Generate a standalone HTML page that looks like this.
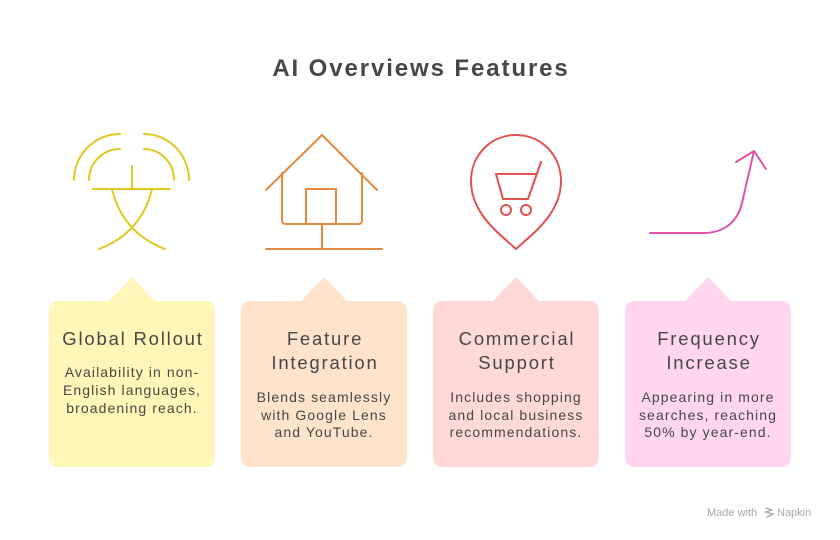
<!DOCTYPE html>
<html>
<head>
<meta charset="utf-8">
<style>
  html,body{margin:0;padding:0;background:#fff;}
  body{width:840px;height:540px;overflow:hidden;}
  svg{display:block;}
  text{font-family:"Liberation Sans",sans-serif;fill:#474747;}
  .t{font-size:18.5px;letter-spacing:1.8px;}
  .d{font-size:14px;letter-spacing:1.1px;}
</style>
</head>
<body>
<svg width="840" height="540" viewBox="0 0 840 540" xmlns="http://www.w3.org/2000/svg">
  <rect width="840" height="540" fill="#ffffff"/>
  <text x="421" y="76" text-anchor="middle" style="font-size:24px;font-weight:bold;fill:#474747;letter-spacing:1.9px;">AI Overviews Features</text>

  <!-- Icon 1: translate/antenna -->
  <g fill="none" stroke="#E2C81E" stroke-width="2" stroke-linecap="round">
    <path d="M74 180 A46 46 0 0 1 120 134"/>
    <path d="M144 134 A45 46 0 0 1 189 180"/>
    <path d="M89 180 A31 31 0 0 1 120 149"/>
    <path d="M144 149 A30 31 0 0 1 174 180"/>
    <line x1="132" y1="166" x2="132" y2="189"/>
    <line x1="93" y1="189" x2="170" y2="189"/>
    <path d="M112 189 C118 215 135 238 165 249"/>
    <path d="M152 189 C146 215 129 238 99 249"/>
  </g>

  <!-- Icon 2: house -->
  <g fill="none" stroke="#E38A3E" stroke-width="2" stroke-linecap="round" stroke-linejoin="round">
    <path d="M266 190 L322 135 L377 190"/>
    <path d="M282 173 L282 220 Q282 224 286 224 L358 224 Q362 224 362 220 L362 173"/>
    <path d="M306 224 L306 189 L336 189 L336 224"/>
    <line x1="322" y1="224" x2="322" y2="249"/>
    <line x1="266" y1="249" x2="382" y2="249"/>
  </g>

  <!-- Icon 3: pin with cart -->
  <g fill="none" stroke="#E0524E" stroke-width="2" stroke-linecap="round" stroke-linejoin="round">
    <path d="M516 249 C500 234 471 214 471 181 C471 155 491 135 516 135 C541 135 561 155 561 181 C561 214 532 234 516 249 Z"/>
    <path d="M496 174 L537 174"/>
    <path d="M496 174 L503 199 L528 199 L541 162"/>
    <circle cx="506" cy="210" r="5"/>
    <circle cx="526" cy="210" r="5"/>
  </g>

  <!-- Icon 4: growth arrow -->
  <g fill="none" stroke="#E052AA" stroke-width="2" stroke-linecap="round" stroke-linejoin="round">
    <path d="M650 233 L703 233 C722 233 737 224 742 203 L754 151"/>
    <path d="M736 162 L754 151 L766 169"/>
  </g>

  <!-- Cards -->
  <g>
    <path d="M109 301 L132 277 L155 301 Z" fill="#FFF6B8"/>
    <rect x="49" y="301" width="166" height="166" rx="9" fill="#FFF6B8"/>
    <path d="M301 301 L324 277 L347 301 Z" fill="#FFE3CB"/>
    <rect x="241" y="301" width="166" height="166" rx="9" fill="#FFE3CB"/>
    <path d="M493 301 L516 277 L539 301 Z" fill="#FFD9D6"/>
    <rect x="433" y="301" width="166" height="166" rx="9" fill="#FFD9D6"/>
    <path d="M685 301 L708 277 L731 301 Z" fill="#FFD6EE"/>
    <rect x="625" y="301" width="166" height="166" rx="9" fill="#FFD6EE"/>
  </g>

  <!-- Card 1 text -->
  <text class="t" x="133" y="345" text-anchor="middle">Global Rollout</text>
  <text class="d" x="132" y="377" text-anchor="middle">Availability in non-</text>
  <text class="d" x="132" y="395" text-anchor="middle">English languages,</text>
  <text class="d" x="132" y="413" text-anchor="middle">broadening reach.</text>

  <!-- Card 2 text -->
  <text class="t" x="325" y="345" text-anchor="middle">Feature</text>
  <text class="t" x="325" y="369" text-anchor="middle">Integration</text>
  <text class="d" x="324" y="402" text-anchor="middle">Blends seamlessly</text>
  <text class="d" x="324" y="420" text-anchor="middle">with Google Lens</text>
  <text class="d" x="324" y="437" text-anchor="middle">and YouTube.</text>

  <!-- Card 3 text -->
  <text class="t" x="517" y="345" text-anchor="middle">Commercial</text>
  <text class="t" x="517" y="369" text-anchor="middle">Support</text>
  <text class="d" x="516" y="402" text-anchor="middle">Includes shopping</text>
  <text class="d" x="516" y="420" text-anchor="middle">and local business</text>
  <text class="d" x="516" y="437" text-anchor="middle">recommendations.</text>

  <!-- Card 4 text -->
  <text class="t" x="709" y="345" text-anchor="middle">Frequency</text>
  <text class="t" x="709" y="369" text-anchor="middle">Increase</text>
  <text class="d" x="708" y="402" text-anchor="middle">Appearing in more</text>
  <text class="d" x="708" y="420" text-anchor="middle">searches, reaching</text>
  <text class="d" x="708" y="437" text-anchor="middle">50% by year-end.</text>

  <!-- Watermark -->
  <text x="707" y="516" style="font-size:11px;fill:#a8a8a8;">Made with</text>
  <g fill="none" stroke="#a8a8a8" stroke-width="1.3" stroke-linecap="round">
    <path d="M766 508 L772 510 L766 512 L773 514 L767 517"/>
  </g>
  <text x="777" y="516" style="font-size:11px;fill:#a8a8a8;">Napkin</text>
</svg>
</body>
</html>
